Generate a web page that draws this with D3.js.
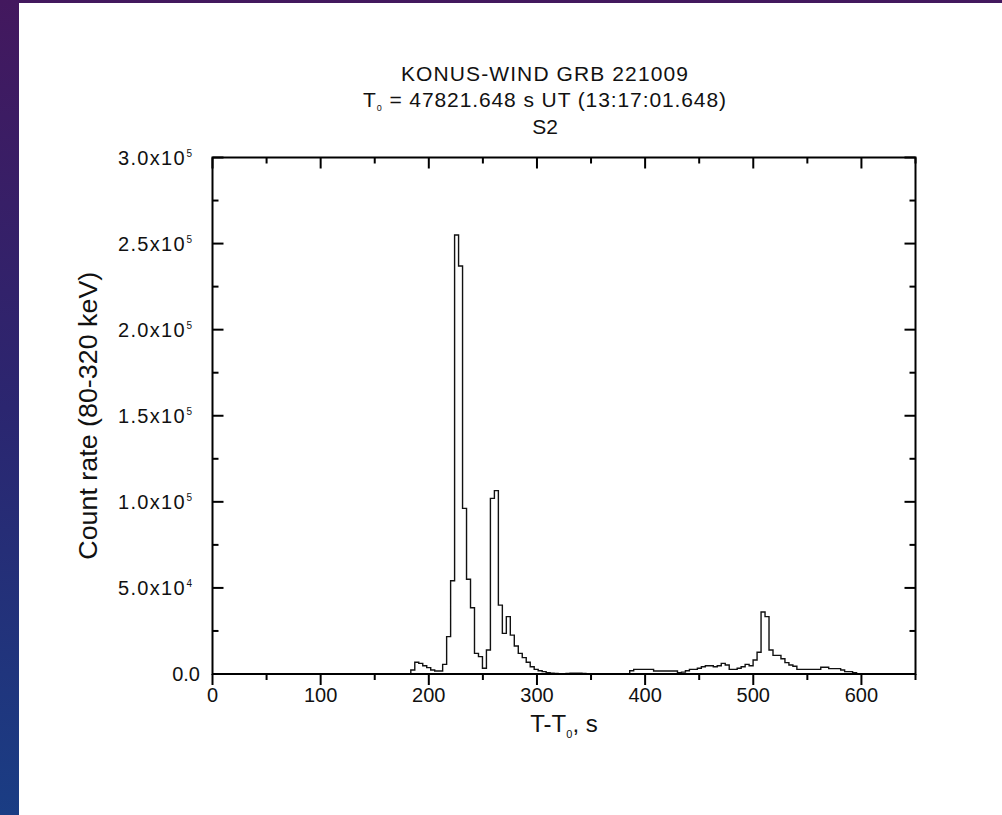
<!DOCTYPE html>
<html><head><meta charset="utf-8">
<script src="https://cdn.jsdelivr.net/npm/d3@7"></script>
<style>body{margin:0;background:#fff}svg{display:block}</style>
</head><body><svg id="c" width="1002" height="815"></svg>
<script>
// ---- data ----
const binStart = 183.36;      // s, left edge of first bin
const binWidth = 3.68;        // s
const counts = [
  2300, 6800, 6200, 4800, 3700, 2300, 1700, 1700, 5600, 21700,
  54200, 255000, 237000, 96200, 55000, 38500, 12000, 10100, 3300, 13900,
  102000, 106500, 40000, 23600, 33300, 22600, 16300, 12000, 9500, 6800,
  4200, 2700, 1900, 1400, 800, 500, 300, 0, 0, 300,
  400, 400, 400, 300, 0, 0, 0, 0, 0, 0,
  0, 0, 0, 0, 0, 1900, 2700, 2700, 2700, 2700,
  2700, 1700, 1700, 1700, 1700, 1700, 1700, 800, 1100, 1900,
  2700, 2700, 3300, 4200, 4800, 4800, 4200, 4800, 6200, 5200,
  2700, 2700, 3300, 4200, 5600, 4800, 8100, 12600, 36000, 33300,
  13900, 10800, 10800, 8900, 6600, 5200, 4500, 2700, 2700, 2700,
  2700, 2700, 2700, 3900, 3900, 3100, 3100, 3100, 2300, 1400,
  1400, 800
];
const xMajor = [0, 100, 200, 300, 400, 500, 600];
const xMinor = [50, 150, 250, 350, 450, 550, 650];
const yMajor = [0, 50000, 100000, 150000, 200000, 250000, 300000];
const yMinor = [25000, 75000, 125000, 175000, 225000, 275000];
const yLabelMantissa = ["0.0", "5.0x10", "1.0x10", "1.5x10", "2.0x10", "2.5x10", "3.0x10"];
const yLabelExp = ["", "4", "5", "5", "5", "5", "5"];
const titleLine1 = "KONUS-WIND GRB 221009";
const titleLine2 = " = 47821.648 s UT (13:17:01.648)";
const subtitle = "S2";
const yTitle = "Count rate (80-320 keV)";

// ---- layout ----
const L = 212.5, R = 915.5, T = 157.5, B = 674;
const svg = d3.select("#c");
const font = "'Liberation Sans', Arial, sans-serif";

// background
const defs = svg.append("defs");
const g = defs.append("linearGradient").attr("id", "bg").attr("x1", 0).attr("y1", 0).attr("x2", 0).attr("y2", 1);
g.append("stop").attr("offset", "0%").attr("stop-color", "#43185e");
g.append("stop").attr("offset", "50%").attr("stop-color", "#2b2670");
g.append("stop").attr("offset", "100%").attr("stop-color", "#1a3d84");
svg.append("rect").attr("width", 1002).attr("height", 815).attr("fill", "url(#bg)");
svg.append("rect").attr("x", 19).attr("y", 3).attr("width", 983).attr("height", 812).attr("fill", "#fff");

const x = d3.scaleLinear().domain([0, 650]).range([L, R]);
const y = d3.scaleLinear().domain([0, 300000]).range([B, T]);

// histogram
const pts = [[binStart, 0]];
counts.forEach((c, i) => {
  const a = binStart + i * binWidth;
  pts.push([a, c], [a + binWidth, c]);
});
pts.push([binStart + counts.length * binWidth, 0]);
svg.append("path")
  .attr("d", d3.line().x(d => x(d[0])).y(d => y(d[1]))(pts))
  .attr("fill", "none").attr("stroke", "#111").attr("stroke-width", 1.4)
  .attr("stroke-linejoin", "miter");

// axes
const ax = svg.append("g").attr("stroke", "#000").attr("stroke-width", 2).attr("stroke-linecap", "square");
ax.append("rect").attr("x", L).attr("y", T).attr("width", R - L).attr("height", B - T).attr("fill", "none");
const tk = svg.append("g").attr("stroke", "#000").attr("stroke-width", 2);
const MJ = 11, MN = 6;
xMajor.forEach(v => {
  tk.append("line").attr("x1", x(v)).attr("x2", x(v)).attr("y1", B).attr("y2", B + MJ);
  tk.append("line").attr("x1", x(v)).attr("x2", x(v)).attr("y1", T).attr("y2", T + MJ);
});
xMinor.forEach(v => {
  tk.append("line").attr("x1", x(v)).attr("x2", x(v)).attr("y1", B).attr("y2", B + MN);
  tk.append("line").attr("x1", x(v)).attr("x2", x(v)).attr("y1", T).attr("y2", T + MN);
});
yMajor.forEach(v => {
  tk.append("line").attr("x1", L).attr("x2", L + MJ).attr("y1", y(v)).attr("y2", y(v));
  tk.append("line").attr("x1", R).attr("x2", R - MJ).attr("y1", y(v)).attr("y2", y(v));
});
yMinor.forEach(v => {
  tk.append("line").attr("x1", L).attr("x2", L + MN).attr("y1", y(v)).attr("y2", y(v));
  tk.append("line").attr("x1", R).attr("x2", R - MN).attr("y1", y(v)).attr("y2", y(v));
});

// tick labels
const txt = svg.append("g").attr("font-family", font).attr("fill", "#111");
xMajor.forEach(v => {
  txt.append("text").attr("x", x(v)).attr("y", 702).attr("text-anchor", "middle")
    .attr("font-size", 20).text(v);
});
yMajor.forEach((v, i) => {
  const hasExp = !!yLabelExp[i];
  const t = txt.append("text").attr("x", hasExp ? 192 : 200).attr("y", y(v) + 7)
    .attr("text-anchor", "end").attr("font-size", 20);
  t.append("tspan").attr("letter-spacing", hasExp ? 1.3 : 0).text(yLabelMantissa[i]);
  if (hasExp) t.append("tspan").attr("font-size", 10).attr("dx", 0.5).attr("dy", -8).text(yLabelExp[i]);
});

// titles
const tc = 545;
txt.append("text").attr("x", tc).attr("y", 81).attr("text-anchor", "middle").attr("font-size", 21)
  .attr("letter-spacing", 1.1).text(titleLine1);
const t2 = txt.append("text").attr("x", tc).attr("y", 107).attr("text-anchor", "middle").attr("font-size", 21)
  .attr("letter-spacing", 0.9);
t2.append("tspan").text("T");
t2.append("tspan").attr("font-size", 9).attr("dy", 4).text("0");
t2.append("tspan").attr("dy", -4).text(titleLine2);
txt.append("text").attr("x", tc).attr("y", 134).attr("text-anchor", "middle").attr("font-size", 21).text(subtitle);

// axis titles
const xt = txt.append("text").attr("x", (L + R) / 2).attr("y", 732).attr("text-anchor", "middle").attr("font-size", 24);
xt.append("tspan").text("T-T");
xt.append("tspan").attr("font-size", 11).attr("dy", 6).text("0");
xt.append("tspan").attr("dy", -6).text(", s");
txt.append("text").attr("transform", `translate(97,${(T + B) / 2}) rotate(-90)`).attr("text-anchor", "middle")
  .attr("font-size", 26).attr("textLength", 288).attr("lengthAdjust", "spacingAndGlyphs").text(yTitle);
</script></body></html>
